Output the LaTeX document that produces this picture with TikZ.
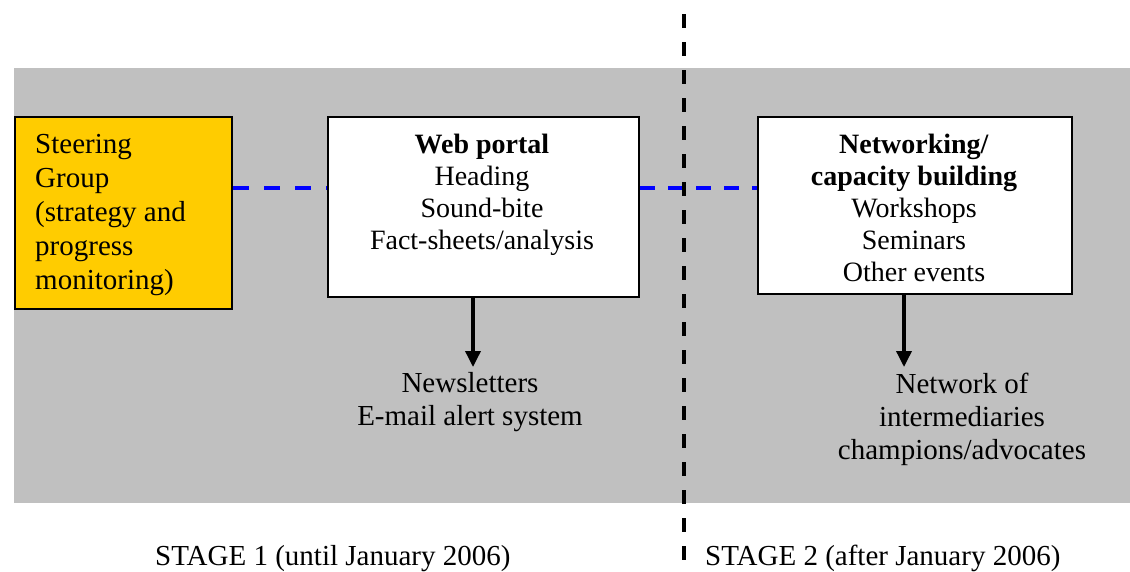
\documentclass[tikz,border=0pt]{standalone}
\usepackage{fontspec}
\setmainfont{Liberation Serif}
\usetikzlibrary{arrows.meta}
\definecolor{panelgrey}{HTML}{C0C0C0}
\definecolor{steergold}{HTML}{FFCC00}
\definecolor{linkblue}{HTML}{0000FF}
\begin{document}
\begin{tikzpicture}[x=1pt,y=-1pt,
  panel/.style={fill=panelgrey, draw=none, inner sep=0pt, anchor=north west},
  box/.style={draw=black, line width=2.2pt, fill=white, inner sep=0pt, anchor=north west},
  goldbox/.style={box, fill=steergold},
  boxtext/.style={inner sep=0pt, font=\fontsize{28}{32}\selectfont, align=center, anchor=north},
  steertext/.style={inner sep=0pt, font=\fontsize{29}{34}\selectfont, align=left, anchor=north west},
  outtext/.style={inner sep=0pt, font=\fontsize{29}{33}\selectfont, align=center, anchor=north},
  stagetext/.style={inner sep=0pt, font=\fontsize{29}{33}\selectfont, anchor=base west},
  link/.style={draw=linkblue, line width=4pt, dash pattern=on 15pt off 13pt},
  widelink/.style={link, dash pattern=on 16pt off 15pt},
  divider/.style={draw=black, line width=4pt, dash pattern=on 14pt off 14pt},
  flow/.style={draw=black, line width=3.5pt, -{Triangle[length=16pt,width=15pt]}}
]
\useasboundingbox (0,0) rectangle (1130,571);

% grey background band
\node[panel, minimum width=1116pt, minimum height=435pt] (band) at (14,68) {};

% boxes
\node[goldbox, minimum width=217pt, minimum height=192pt] (steer) at (14,116) {};
\node[box, minimum width=311pt, minimum height=180pt] (web) at (327,116) {};
\node[box, minimum width=314pt, minimum height=177pt] (net) at (757,116) {};

% box contents
\node[steertext] (steertxt) at (35,134) {Steering\\Group\\(strategy and\\progress\\monitoring)};
\node[boxtext] (webtxt) at (482,134) {\textbf{Web portal}\\Heading\\Sound-bite\\Fact-sheets/analysis};
\node[boxtext] (nettxt) at (914,134) {\textbf{Networking/}\\\textbf{capacity building}\\Workshops\\Seminars\\Other events};

% outputs
\node[outtext] (news) at (470,372) {Newsletters\\E-mail alert system};
\node[outtext] (network) at (962,373) {Network of\\intermediaries\\champions/advocates};

% stage captions
\node[stagetext] (stage1) at (155,565) {STAGE 1 (until January 2006)};
\node[stagetext] (stage2) at (705,565) {STAGE 2 (after January 2006)};

% blue dashed links
\coordinate (linky) at (0,188);
\draw[widelink] (steer.east |- linky) -- (web.west |- linky);
\draw[link] (web.east |- linky) -- (net.west |- linky);

% arrows to outputs
\coordinate (webtip) at (473,367);
\coordinate (nettip) at (904,367);
\draw[flow] (web.south -| webtip) -- (webtip);
\draw[flow] (net.south -| nettip) -- (nettip);

% stage divider
\coordinate (divtop) at (684,14);
\coordinate (divbot) at (684,560);
\draw[divider] (divtop) -- (divbot);
\end{tikzpicture}
\end{document}
